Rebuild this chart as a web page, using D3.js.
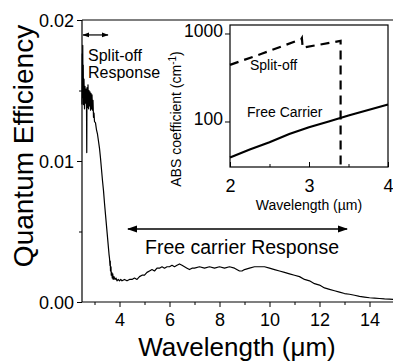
<!DOCTYPE html>
<html>
<head>
<meta charset="utf-8">
<script src="https://cdn.jsdelivr.net/npm/d3@7"></script>
<style>
  html, body { margin: 0; padding: 0; background: #fff; }
  svg { display: block; }
  text { font-family: "Liberation Sans", Arial, sans-serif; fill: #000; }
</style>
</head>
<body>
<svg id="chart" width="393" height="364"></svg>
<script>
// ---- Main chart data: quantum efficiency spectrum ----
const wavelength = [2.50,2.51,2.52,2.53,2.54,2.55,2.56,2.58,2.60,2.62,2.64,2.66,2.68,2.69,2.70,2.72,2.74,2.76,2.78,2.80,2.82,2.84,2.86,2.88,2.90,2.92,2.94,2.96,2.98,3.00,3.04,3.08,3.12,3.16,3.20,3.24,3.28,3.32,3.36,3.40,3.44,3.48,3.52,3.55,3.58,3.60,3.62,3.63,3.64,3.66,3.67,3.69,3.71,3.73,3.75,3.78,3.82,3.86,3.90,3.95,4.00,4.05,4.10,4.20,4.30,4.40,4.50,4.60,4.70,4.80,4.90,5.00,5.10,5.20,5.30,5.40,5.50,5.60,5.70,5.80,5.90,6.00,6.10,6.20,6.30,6.40,6.50,6.60,6.70,6.80,6.90,7.00,7.20,7.40,7.60,7.80,8.00,8.20,8.40,8.60,8.80,8.90,9.00,9.20,9.40,9.60,9.80,10.00,10.20,10.40,10.60,10.80,11.00,11.20,11.40,11.60,11.80,12.00,12.20,12.40,12.60,12.80,13.00,13.20,13.40,13.60,13.80,14.00,14.20,14.40,14.60,14.80,15.00];
const quantumEff = [0.0140,0.0176,0.0150,0.0182,0.0145,0.0168,0.0140,0.0158,0.0137,0.0153,0.0141,0.0151,0.0139,0.0106,0.0152,0.0138,0.0154,0.0137,0.0150,0.0139,0.0149,0.0136,0.0148,0.0137,0.0147,0.0136,0.0143,0.0131,0.0134,0.0128,0.0127,0.0122,0.0119,0.0114,0.0109,0.0102,0.0094,0.0086,0.0079,0.0070,0.0062,0.0054,0.0046,0.0040,0.0034,0.0031,0.0026,0.0029,0.0022,0.0025,0.0019,0.0021,0.0017,0.0020,0.0016,0.0018,0.0016,0.0017,0.0015,0.0016,0.0015,0.0016,0.0015,0.0016,0.0015,0.0016,0.0016,0.0017,0.0016,0.0018,0.0019,0.0019,0.0021,0.0022,0.0023,0.0022,0.0024,0.0024,0.0025,0.0024,0.0025,0.0025,0.0026,0.0025,0.0026,0.0027,0.0026,0.0025,0.0024,0.0023,0.0024,0.0024,0.0025,0.0024,0.0025,0.0024,0.0025,0.0024,0.0025,0.0024,0.0022,0.0022,0.0023,0.0024,0.0025,0.0025,0.0025,0.0024,0.0023,0.0022,0.0021,0.0020,0.0019,0.0018,0.0016,0.0015,0.0013,0.0012,0.0010,0.0009,0.0008,0.0007,0.0006,0.00055,0.00048,0.0004,0.00035,0.0003,0.00028,0.00025,0.00022,0.0002,0.00018];
const xMajorTicks = [4, 6, 8, 10, 12, 14];
const xMinorTicks = [3, 5, 7, 9, 11, 13];
const yMajorTicks = [0, 0.01, 0.02];
const yMinorTicks = [0.005, 0.015];
const yTickLabels = ["0.00", "0.01", "0.02"];

// ---- Inset data: absorption coefficients ----
const freeCarrierWl  = [2.0, 2.25, 2.5, 2.75, 3.0, 3.25, 3.5, 3.75, 4.0];
const freeCarrierAbs = [39, 48, 58, 72, 86, 100, 117, 135, 156];
const splitOffWl  = [2.0, 2.4, 2.90, 2.91, 2.92, 3.4, 3.4];
const splitOffAbs = [440, 588, 860, 890, 690, 825, 30.4];
const insetXTicks = [2, 3, 4];
const insetXMinor = [2.5, 3.5];
const insetYTicks = [100, 1000];

// ---- Annotations ----
const splitArrow = {x0: 2.54, x1: 3.54, y: 0.01894};
const freeArrow = {x0: 4.34, x1: 13.1, y: 0.00518};

const svg = d3.select("#chart");
const font = '"Liberation Sans", Arial, sans-serif';

// Main scales
const x = d3.scaleLinear().domain([2.5, 15]).range([82, 394.5]);
const y = d3.scaleLinear().domain([0, 0.02]).range([302, 20]);

// defs: arrowheads
const defs = svg.append("defs");
function marker(id, size) {
  defs.append("marker").attr("id", id)
    .attr("viewBox", "0 0 10 10").attr("refX", 9).attr("refY", 5)
    .attr("markerWidth", size).attr("markerHeight", size)
    .attr("markerUnits", "userSpaceOnUse")
    .attr("orient", "auto-start-reverse")
    .append("path").attr("d", "M0,1.5 L10,5 L0,8.5 Z").attr("fill", "#000");
}
marker("arrS", 7);
marker("arrL", 10);

// Frame top line
svg.append("line").attr("x1", 82).attr("x2", 395).attr("y1", 20).attr("y2", 20)
  .attr("stroke", "#000").attr("stroke-width", 1.2);

// Axes
const xAxis = svg.append("g").attr("transform", "translate(0,302)")
  .call(d3.axisBottom(x).tickValues(xMajorTicks).tickSize(5).tickFormat(d3.format("d")));
svg.append("g").attr("transform", "translate(0,302)")
  .call(d3.axisBottom(x).tickValues(xMinorTicks).tickSize(3).tickFormat(""))
  .select(".domain").remove();
const yAxis = svg.append("g").attr("transform", "translate(82,0)")
  .call(d3.axisLeft(y).tickValues(yMajorTicks).tickSize(5).tickFormat((d, i) => yTickLabels[i]));
svg.append("g").attr("transform", "translate(82,0)")
  .call(d3.axisLeft(y).tickValues(yMinorTicks).tickSize(3).tickFormat(""))
  .select(".domain").remove();

xAxis.select(".domain").attr("d", "M82,0H395").attr("stroke-width", 1.2);
yAxis.select(".domain").attr("d", "M0,302V20").attr("stroke-width", 1.2);
svg.selectAll(".tick line").attr("stroke-width", 1);
xAxis.selectAll(".tick text").attr("font-family", font).attr("font-size", 18).attr("dy", "1.05em").attr("y", 5);
yAxis.selectAll(".tick text").attr("font-family", font).attr("font-size", 18).attr("x", -8).attr("dy", "0.38em");

// Main curve
const pts = wavelength.map((w, i) => [w, quantumEff[i]]);
svg.append("path").datum(pts)
  .attr("fill", "none").attr("stroke", "#000").attr("stroke-width", 1.2)
  .attr("stroke-linejoin", "round")
  .attr("d", d3.line().x(d => x(d[0])).y(d => y(d[1])));

// Axis titles
svg.append("text").attr("x", 237).attr("y", 356).attr("text-anchor", "middle")
  .attr("font-family", font).attr("font-size", 26).text("Wavelength (μm)");
svg.append("text").attr("transform", "translate(33,146) rotate(-90)").attr("text-anchor", "middle")
  .attr("font-family", font).attr("font-size", 28).text("Quantum Efficiency");

// Annotations
svg.append("line").attr("x1", x(splitArrow.x0)).attr("x2", x(splitArrow.x1))
  .attr("y1", y(splitArrow.y)).attr("y2", y(splitArrow.y))
  .attr("stroke", "#000").attr("stroke-width", 1.2)
  .attr("marker-start", "url(#arrS)").attr("marker-end", "url(#arrS)");
svg.append("text").attr("x", 88).attr("y", 61).attr("font-family", font).attr("font-size", 16).text("Split-off");
svg.append("text").attr("x", 88).attr("y", 78).attr("font-family", font).attr("font-size", 16).text("Response");

svg.append("line").attr("x1", x(freeArrow.x0)).attr("x2", x(freeArrow.x1))
  .attr("y1", y(freeArrow.y)).attr("y2", y(freeArrow.y))
  .attr("stroke", "#000").attr("stroke-width", 1.5)
  .attr("marker-start", "url(#arrL)").attr("marker-end", "url(#arrL)");
svg.append("text").attr("x", 145).attr("y", 254).attr("font-family", font).attr("font-size", 19.5).text("Free carrier Response");

// ---- Inset ----
const ix = d3.scaleLinear().domain([2, 4]).range([230, 388]);
const iy = d3.scaleLog().domain([30.4, 1249]).range([167, 25]);

const inset = svg.append("g");
inset.append("rect").attr("x", 230).attr("y", 25).attr("width", 158).attr("height", 142)
  .attr("fill", "#fff").attr("stroke", "#000").attr("stroke-width", 1.2);

const ixAxis = inset.append("g").attr("transform", "translate(0,167)")
  .call(d3.axisBottom(ix).tickValues(insetXTicks).tickSize(-5).tickFormat(d3.format("d")));
inset.append("g").attr("transform", "translate(0,167)")
  .call(d3.axisBottom(ix).tickValues(insetXMinor).tickSize(-3).tickFormat(""))
  .select(".domain").remove();
ixAxis.select(".domain").remove();
ixAxis.selectAll(".tick text").attr("font-family", font).attr("font-size", 18).attr("y", 25).attr("dy", 0);

const iyAxis = inset.append("g").attr("transform", "translate(230,0)")
  .call(d3.axisLeft(iy).tickValues(insetYTicks).tickSize(5).tickFormat(d3.format("d")));
iyAxis.select(".domain").remove();
iyAxis.selectAll(".tick text").attr("font-family", font).attr("font-size", 17.5).attr("x", -7).attr("dy", "0.2em");

inset.append("path").datum(freeCarrierWl.map((w, i) => [w, freeCarrierAbs[i]]))
  .attr("fill", "none").attr("stroke", "#000").attr("stroke-width", 2.2)
  .attr("d", d3.line().x(d => ix(d[0])).y(d => iy(d[1])));
inset.append("path").datum(splitOffWl.map((w, i) => [w, splitOffAbs[i]]))
  .attr("fill", "none").attr("stroke", "#000").attr("stroke-width", 2.2)
  .attr("stroke-dasharray", "9,6")
  .attr("d", d3.line().x(d => ix(d[0])).y(d => iy(d[1])));

inset.append("text").attr("x", 250).attr("y", 70).attr("font-family", font).attr("font-size", 14).text("Split-off");
inset.append("text").attr("x", 247).attr("y", 117).attr("font-family", font).attr("font-size", 14).text("Free Carrier");
inset.append("text").attr("x", 309).attr("y", 210).attr("text-anchor", "middle")
  .attr("font-family", font).attr("font-size", 14).text("Wavelength (µm)");
const ylab = inset.append("text").attr("transform", "translate(181,119) rotate(-90)").attr("text-anchor", "middle")
  .attr("font-family", font).attr("font-size", 14);
ylab.append("tspan").text("ABS coefficient (cm");
ylab.append("tspan").attr("font-size", 10).attr("dy", -5).text("-1");
ylab.append("tspan").attr("dy", 5).text(")");
</script>
</body>
</html>
